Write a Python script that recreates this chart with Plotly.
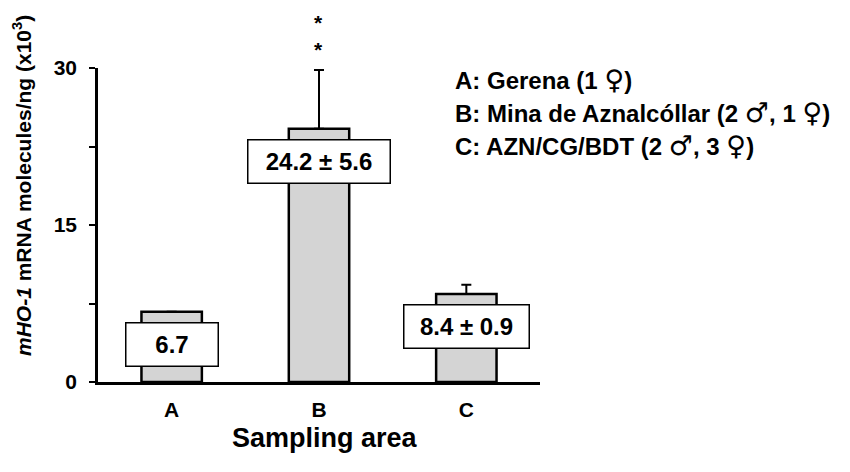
import plotly.graph_objects as go

categories = ["A", "B", "C"]
means = [6.7, 24.2, 8.4]
sem = [None, 5.6, 0.9]
box_labels = ["6.7", "24.2 ± 5.6", "8.4 ± 0.9"]
box_widths = [89, 139, 122]
FEM = "<span style='font-family:DejaVu Sans;font-size:27px;font-weight:normal'>♀</span>"
MAL = "<span style='font-family:DejaVu Sans;font-size:27px;font-weight:normal'>♂</span>"
legend_lines = [
    f"A: Gerena (1 {FEM})",
    f"B: Mina de Aznalcóllar (2 {MAL}, 1 {FEM})",
    f"C: AZN/CG/BDT (2 {MAL}, 3 {FEM})",
]
y_ticks = [0, 15, 30]
y_minor_ticks = [7.5, 22.5]
significance = "**"

FONT = "Arial, Liberation Sans, DejaVu Sans"

# page body adds an 8px margin; size the figure so the plot lands where the reference has it
W, H = 842, 464
L, T, R, B = 90, 60, 310, 90
pw, ph = W - L - R, H - T - B


def px_to_paper(xp, yp):
    # reference page pixels -> paper coords
    return (xp - 8 - L) / pw, 1 - (yp - 8 - T) / ph


fig = go.Figure()
fig.add_trace(go.Bar(
    x=categories, y=means, width=0.41,
    marker=dict(color="#d4d4d4", line=dict(color="black", width=2.5)),
    error_y=dict(type="data", symmetric=False, array=sem,
                 arrayminus=[0, 0, 0], color="black", thickness=2, width=5),
))

for c, v, t, w in zip(categories, means, box_labels, box_widths):
    fig.add_annotation(x=c, y=v - 3.1, xref="x", yref="y", text=f"<b>{t}</b>",
                       showarrow=False, bgcolor="white", bordercolor="black",
                       borderwidth=1.5, borderpad=1, width=w, height=40,
                       font=dict(family=FONT, size=24, color="black"))

# significance marks, stacked above the top of the axis over bar B
fig.add_annotation(x="B", y=30, xref="x", yref="y", yanchor="bottom", yshift=5,
                   xshift=-1, text="<br>".join(f"<b>{s}</b>" for s in significance),
                   showarrow=False,
                   font=dict(family=FONT, size=21, color="black"))

for i, line in enumerate(legend_lines):
    lx, ly = px_to_paper(453, 79 + 33 * i)
    fig.add_annotation(x=lx, y=ly, xref="paper", yref="paper",
                       text=f"<b>{line}</b>", showarrow=False,
                       xanchor="left", yanchor="middle",
                       font=dict(family=FONT, size=24, color="black"))

tx, ty = px_to_paper(22, 186)
fig.add_annotation(x=tx, y=ty, xref="paper", yref="paper", textangle=-90,
                   text="<b><i>mHO-1</i> mRNA molecules/ng (x10<sup>3</sup>)</b>",
                   showarrow=False, xanchor="center", yanchor="middle",
                   font=dict(family=FONT, size=21, color="black"))

sx, sy = px_to_paper(325, 438)
fig.add_annotation(x=sx, y=sy, xref="paper", yref="paper",
                   text="<b>Sampling area</b>", showarrow=False,
                   xanchor="center", yanchor="middle",
                   font=dict(family=FONT, size=27, color="black"))

fig.update_layout(
    width=W, height=H,
    margin=dict(l=L, r=R, t=T, b=B),
    paper_bgcolor="white", plot_bgcolor="white",
    showlegend=False,
    font=dict(family=FONT, color="black"),
    xaxis=dict(range=[-0.5, 2.5], showline=True, linecolor="black", linewidth=3,
               ticks="", showgrid=False, zeroline=False,
               tickvals=categories, ticktext=[f"<b>{c}</b>" for c in categories],
               tickfont=dict(family=FONT, size=21, color="black"),
               ticklabelstandoff=7),
    yaxis=dict(range=[0, 30], showline=True, linecolor="black", linewidth=2.5,
               ticks="outside", ticklen=6, tickwidth=2, tickcolor="black",
               tickvals=y_ticks, ticktext=[f"<b>{v}</b>" for v in y_ticks],
               minor=dict(tickvals=y_minor_ticks, ticks="outside", ticklen=6,
                          tickwidth=2, tickcolor="black", showgrid=False),
               showgrid=False, zeroline=False,
               tickfont=dict(family=FONT, size=21, color="black"),
               ticklabelstandoff=8),
)

fig.write_html("out.html")
